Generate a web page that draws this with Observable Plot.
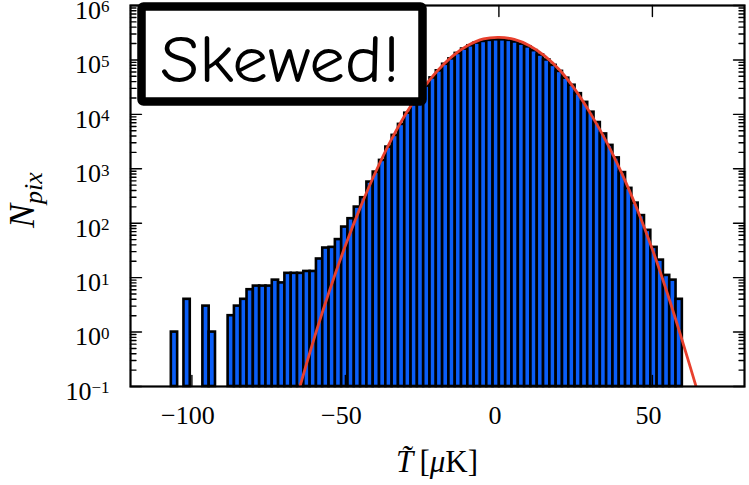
<!DOCTYPE html>
<html><head><meta charset="utf-8">
<script src="https://cdn.jsdelivr.net/npm/d3@7"></script>
<script src="https://cdn.jsdelivr.net/npm/@observablehq/plot@0.6"></script>
<style>
body{margin:0;background:#fff;}
#chart{position:relative;width:749px;height:485px;}
</style></head><body><div id="chart"></div>
<script>
// ---- data ----
const binStart = -106.7;   // left edge of first bin (µK)
const binWidth = 2.055;    // bin width (µK)
const counts = [1,0,4,0,0,3,1,0,0,2,
  3,4,6,7,7,7,9,8,12,12,
  12,13,13,22,35,36,50,85,121,198,
  294,570,870,1426,2506,4111,6546,10500,15140,22910,
  33110,46770,63100,83180,104700,131800,158500,182000,204200,218800,
  229100,234400,234400,229100,213800,195000,173800,147900,123000,100000,
  79430,61660,46240,34280,23990,16600,10960,7080,4365,2690,
  1585,851,437,234,138,74,36,21,11,9,
  4];
const fitX = [-66,-65,-60,-55,-50,-45,-40,-35,-30,-25,-20,-15,-10,-5,0,5,10,15,20,25,30,35,40,45,50,55,60,65,67];
const fitN = [0.056,0.091,0.83,6.2,38.9,204,912,3467,10960,28440,63100,118600,185400,242700,259400,237700,182400,117200,63100,27540,10000,3160,832,182,33,4.9,0.62,0.07,0.025];
const xTicks = [-100, -50, 0, 50];
const yTicks = [0.1, 1, 10, 100, 1000, 1e4, 1e5, 1e6];
const xDomain = [-120, 80];
const yDomain = [0.1, 1e6];
const annotation = "Skewed!";

// ---- derived tables ----
const bins = counts.map((c, i) => ({x1: binStart + i * binWidth, x2: binStart + (i + 1) * binWidth, n: c})).filter(d => d.n > 0);
const fit = fitX.map((x, i) => ({x, n: fitN[i]}));
const yMinor = yTicks.slice(0, -1).flatMap(t => d3.range(2, 10).map(m => m * t));

const tickShape = {draw(ctx, l) { ctx.moveTo(0, 0); ctx.lineTo(0, -l); }};
const tk = (data, o) => Plot.vector(data, {...o, anchor: "start", shape: tickShape, stroke: "#000", strokeWidth: 1.4});

const plot = Plot.plot({
  width: 749, height: 485,
  marginLeft: 130, marginRight: 5, marginTop: 5, marginBottom: 99,
  style: {fontFamily: "'Liberation Serif', 'DejaVu Serif', serif", fontSize: "26px", color: "#000", background: "#fff", overflow: "visible"},
  x: {domain: xDomain},
  y: {type: "log", domain: yDomain},
  marks: [
    Plot.rect(bins, {x1: "x1", x2: "x2", y1: yDomain[0], y2: "n", fill: "#0b5ef7", stroke: "#000", strokeWidth: 2.6}),
    Plot.line(fit, {x: "x", y: "n", stroke: "#e8402d", strokeWidth: 2.8, curve: "catmull-rom", clip: true}),
    tk(yTicks, {y: d => d, frameAnchor: "left", rotate: 90, length: 11}),
    tk(yTicks, {y: d => d, frameAnchor: "right", rotate: -90, length: 11}),
    tk(yMinor, {y: d => d, frameAnchor: "left", rotate: 90, length: 5.5}),
    tk(yMinor, {y: d => d, frameAnchor: "right", rotate: -90, length: 5.5}),
    tk(xTicks, {x: d => d, frameAnchor: "bottom", rotate: 0, length: 11}),
    tk(xTicks, {x: d => d, frameAnchor: "top", rotate: 180, length: 11}),
    Plot.frame({stroke: "#000", strokeWidth: 2.2}),
    Plot.axisX(xTicks, {anchor: "bottom", tickSize: 0, tickPadding: 19, dx: -4, label: null}),
    Plot.axisY(yTicks, {anchor: "left", tickSize: 0, tickPadding: 21, dy: 5, label: null,
      tickFormat: d => "10^" + Math.round(Math.log10(d))})
  ]
});

const ns = "http://www.w3.org/2000/svg";
plot.querySelectorAll("text").forEach(t => {
  const m = /^10\^(-?\d+)$/.exec(t.textContent);
  if (m) {
    t.textContent = "10";
    const s = document.createElementNS(ns, "tspan");
    s.setAttribute("dy", "-0.38em");
    s.setAttribute("font-size", "17");
    s.textContent = m[1].replace("-", "\u2212");
    t.appendChild(s);
  }
});

const svg = d3.select(plot);
// x label
const xl = svg.append("text").attr("x", 437).attr("y", 472).attr("text-anchor", "middle")
  .attr("font-size", 31).attr("font-family", "'Liberation Serif', serif").attr("fill", "#000");
xl.append("tspan").attr("font-style", "italic").text("T\u0303");
xl.append("tspan").text("\u2009[");
xl.append("tspan").attr("font-style", "italic").text("\u03bc");
xl.append("tspan").text("K]");
// y label
const yl = svg.append("text").attr("transform", "translate(34,200) rotate(-90)").attr("text-anchor", "middle")
  .attr("font-size", 36).attr("font-family", "'Liberation Serif', serif").attr("fill", "#000");
yl.append("tspan").attr("font-style", "italic").text("N");
yl.append("tspan").attr("font-style", "italic").attr("font-size", 26).attr("dy", 8).text("pix");
// annotation box
svg.append("rect").attr("x", 141.5).attr("y", 6.5).attr("width", 281).attr("height", 95).attr("rx", 2)
  .attr("fill", "#fff").attr("stroke", "#000").attr("stroke-width", 8.5);
svg.append("text").attr("x", 280).attr("y", 82).attr("text-anchor", "middle")
  .attr("font-size", 66).attr("font-family", "'Comic Sans MS', 'Comic Neue', 'Open Sans', sans-serif")
  .attr("textLength", 240).attr("lengthAdjust", "spacingAndGlyphs").attr("fill", "#000").text(annotation);

document.getElementById("chart").appendChild(plot);
</script></body></html>
